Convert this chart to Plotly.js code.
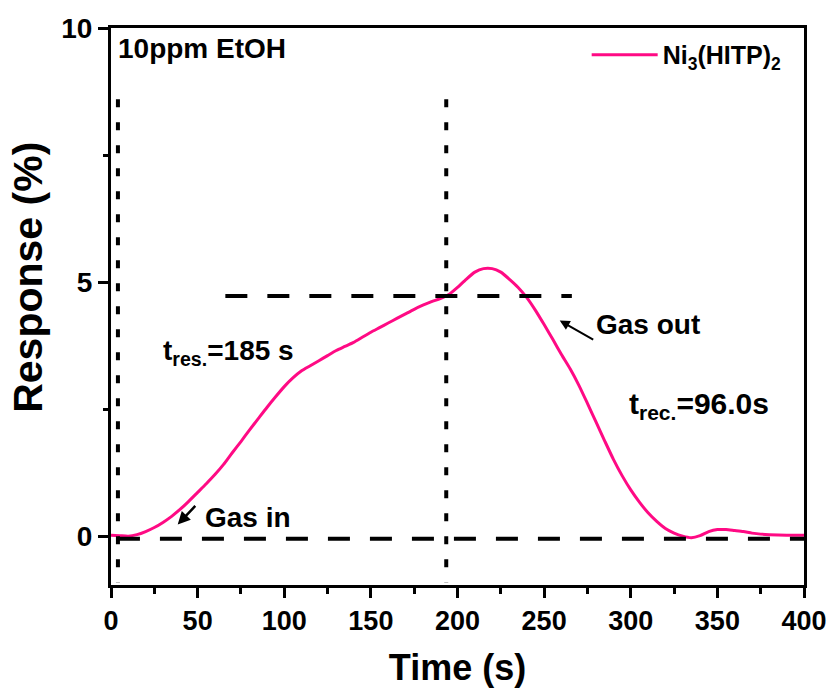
<!DOCTYPE html>
<html>
<head>
<meta charset="utf-8">
<script src="https://cdn.plot.ly/plotly-3.0.1.min.js"></script>
<style>html,body{margin:0;padding:0;background:#fff;}#chart{width:833px;height:693px;}</style>
</head>
<body>
<div id="chart"></div>
<script>
// Time (s)
var time = [0,5,10,15,20,25,30,35,40,45,50,55,60,65,70,75,80,85,90,95,100,105,110,115,120,125,130,135,140,145,150,155,160,165,170,175,180,185,190,195,200,205,210,215,220,225,230,235,240,245,250,255,260,265,270,275,280,285,290,295,300,305,310,315,320,325,330,335,340,345,350,355,360,365,370,375,380,390,400];
// Response (%)
var response = [0.03,0.02,0.01,0.04,0.10,0.18,0.28,0.40,0.54,0.70,0.87,1.04,1.22,1.42,1.65,1.87,2.10,2.32,2.54,2.75,2.95,3.12,3.26,3.36,3.46,3.56,3.66,3.74,3.82,3.92,4.02,4.11,4.20,4.29,4.38,4.47,4.55,4.62,4.68,4.76,4.90,5.06,5.20,5.27,5.27,5.20,5.06,4.90,4.70,4.45,4.17,3.88,3.58,3.30,2.98,2.62,2.25,1.88,1.52,1.20,0.92,0.68,0.47,0.30,0.16,0.07,0.01,-0.02,0.02,0.10,0.14,0.14,0.12,0.10,0.07,0.05,0.04,0.03,0.03];
var seriesName = 'Ni<sub>3</sub>(HITP)<sub>2</sub>';

// reference lines
var gasInTime = 4, gasOutTime = 193.5;
var vLineRange = [8.6, -0.9];
var baseLevel = -0.04;
var plateauLevel = 4.73, plateauRange = [66, 266];

var xTicks = [0,50,100,150,200,250,300,350,400];
var yTicks = [0,5,10];

var F = 'Liberation Sans, Arial, sans-serif';
var pink = '#FF0A84';

var traces = [{
  x: time, y: response, type: 'scatter', mode: 'lines', name: seriesName,
  line: {color: pink, width: 3, shape: 'spline', smoothing: 0.6}
}];

var dotStyle = {color: '#000', width: 4, dash: '8px,15px'};
var dashStyle = {color: '#000', width: 4, dash: '22px,20px'};
var annFont = {family: F, size: 28, color: '#000', weight: 'bold'};

var layout = {
  width: 833, height: 693,
  margin: {l: 111, r: 29, t: 28, b: 108},
  paper_bgcolor: '#fff', plot_bgcolor: '#fff',
  showlegend: true,
  legend: {x: 0.975, y: 0.993, xanchor: 'right', yanchor: 'top', bgcolor: 'rgba(0,0,0,0)',
           font: {family: F, size: 25, color: '#000', weight: 'bold'}, itemwidth: 66},
  xaxis: {
    range: [0, 400], tickvals: xTicks, ticktext: xTicks.map(String),
    showline: true, linecolor: '#000', linewidth: 3, mirror: true,
    ticks: 'outside', ticklen: 10, tickwidth: 3, tickcolor: '#000',
    minor: {dtick: 25, ticks: 'outside', ticklen: 6, tickwidth: 3, tickcolor: '#000'},
    showgrid: false, zeroline: false,
    tickfont: {family: F, size: 27, color: '#000', weight: 'bold'},
    title: {text: 'Time (s)', font: {family: F, size: 36, color: '#000', weight: 'bold'}, standoff: 20}
  },
  yaxis: {
    range: [-0.95, 10], tickvals: yTicks, ticktext: yTicks.map(String),
    showline: true, linecolor: '#000', linewidth: 3, mirror: true,
    ticks: 'outside', ticklen: 10, tickwidth: 3, tickcolor: '#000',
    minor: {tickvals: [2.5, 7.5], ticks: 'outside', ticklen: 5, tickwidth: 3, tickcolor: '#000'},
    showgrid: false, zeroline: false,
    tickfont: {family: F, size: 28, color: '#000', weight: 'bold'}
  },
  shapes: [
    {type: 'line', xref: 'x', yref: 'y', x0: gasInTime, x1: gasInTime, y0: vLineRange[0], y1: vLineRange[1], line: dotStyle},
    {type: 'line', xref: 'x', yref: 'y', x0: gasOutTime, x1: gasOutTime, y0: vLineRange[0], y1: vLineRange[1], line: dotStyle},
    {type: 'line', xref: 'x', yref: 'y', x0: gasInTime, x1: 400, y0: baseLevel, y1: baseLevel, line: dashStyle},
    {type: 'line', xref: 'x', yref: 'y', x0: plateauRange[0], x1: plateauRange[1], y0: plateauLevel, y1: plateauLevel, line: dashStyle}
  ],
  annotations: [
    {xref: 'paper', yref: 'paper', x: -0.12, y: 0.553, xanchor: 'center', yanchor: 'middle', showarrow: false,
     textangle: -90, text: 'Response (%)', font: {family: F, size: 41, color: '#000', weight: 'bold'}},
    {xref: 'paper', yref: 'paper', x: 0.007, y: 0.995, xanchor: 'left', yanchor: 'top', showarrow: false,
     text: '10ppm EtOH', font: annFont},
    {xref: 'x', yref: 'y', x: 29, y: 3.62, xanchor: 'left', yanchor: 'middle', showarrow: false,
     text: 't<sub>res.</sub>=185 s', font: annFont},
    {xref: 'x', yref: 'y', x: 298, y: 2.58, xanchor: 'left', yanchor: 'middle', showarrow: false,
     text: 't<sub>rec.</sub>=96.0s', font: {family: F, size: 30, color: '#000', weight: 'bold'}},
    {xref: 'x', yref: 'y', x: 279, y: 4.17, xanchor: 'left', yanchor: 'middle', showarrow: false,
     text: 'Gas out', font: annFont},
    {xref: 'x', yref: 'y', x: 53, y: 0.37, xanchor: 'left', yanchor: 'middle', showarrow: false,
     text: 'Gas in', font: annFont},
    {xref: 'x', yref: 'y', x: 259, y: 4.25, ax: 35, ay: 20, showarrow: true, text: '',
     arrowhead: 2, arrowsize: 1, arrowwidth: 2, arrowcolor: '#000', standoff: 0},
    {xref: 'x', yref: 'y', x: 38.5, y: 0.24, ax: 19, ay: -20, showarrow: true, text: '',
     arrowhead: 2, arrowsize: 1, arrowwidth: 2.5, arrowcolor: '#000', standoff: 0}
  ]
};

Plotly.newPlot('chart', traces, layout, {displayModeBar: false, staticPlot: true});
</script>
</body>
</html>
